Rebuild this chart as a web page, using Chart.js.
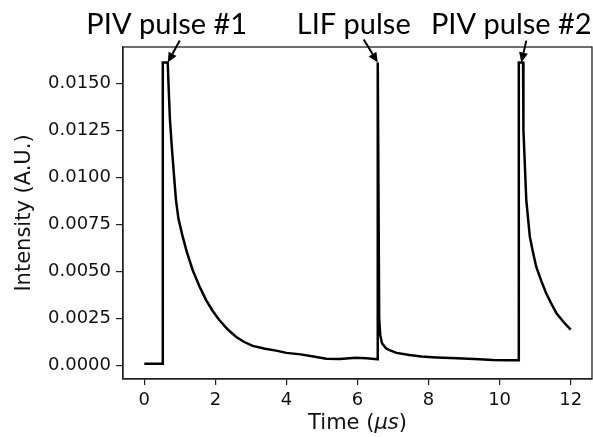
<!DOCTYPE html>
<html>
<head>
<meta charset="utf-8">
<script src="https://cdn.jsdelivr.net/npm/chart.js@4/dist/chart.umd.min.js"></script>
<style>
    body { margin: 0; background: #fff; }
    #wrap { width: 593px; height: 437px; }
</style>
</head>
<body>
<div id="wrap"><canvas id="pulse-chart" width="593" height="437"></canvas></div>
<script>
// signal (time in µs, intensity in A.U.)
const timeUs = [
    0, 0.52, 0.52, 0.66, 0.68, 0.72, 0.78, 0.84, 0.89, 0.96, 1.08, 1.2, 1.36, 1.55, 1.74, 1.92,
    2.11, 2.35, 2.58, 2.8, 3.05, 3.4, 3.71, 4.0, 4.4, 4.8, 5.12, 5.5, 5.96, 6.25, 6.56,
    6.57, 6.61, 6.64, 6.69, 6.8, 6.9, 7.1, 7.46, 7.8, 8.22, 8.8, 9.44, 9.8, 10.2, 10.53,
    10.54, 10.66, 10.67, 10.75, 10.85, 10.94, 11.03, 11.17, 11.31, 11.45, 11.6, 11.8, 12.0
];
const intensity = [
    0.00008, 0.00008, 0.0161, 0.0161, 0.0150, 0.0131, 0.01145, 0.0100, 0.0088, 0.0078, 0.00684, 0.0060, 0.00507, 0.0042, 0.00347, 0.0029,
    0.00241, 0.0019, 0.00152, 0.00125, 0.00103, 0.00088, 0.00078, 0.00066, 0.00058, 0.00045, 0.00035, 0.00034, 0.0004, 0.00037, 0.00032,
    0.0161, 0.0025, 0.0016, 0.00117, 0.0009, 0.00081, 0.00066, 0.00055, 0.00047, 0.00042, 0.00037, 0.00032, 0.00028, 0.00027, 0.00027,
    0.0161, 0.0161, 0.0125, 0.0088, 0.00684, 0.0060, 0.00524, 0.0045, 0.00383, 0.0033, 0.00277, 0.0023, 0.0019
];

const xTicks = [0, 2, 4, 6, 8, 10, 12];
const yTicks = [0, 0.0025, 0.005, 0.0075, 0.01, 0.0125, 0.015];

// annotations: label and the point the arrow points at
const annotLabels = ['PIV pulse #1', 'LIF pulse', 'PIV pulse #2'];
const annotTime = [0.66, 6.57, 10.61];
const annotValue = [0.0161, 0.0161, 0.0161];

const textColor = '#111';

// text offset and arrow tail offset from the arrow tip, in pixels
const annotLayout = [
    { textDx: -1, tailDx: 12, tailDy: -22 },
    { textDx: -24, tailDx: -14, tailDy: -23 },
    { textDx: -10, tailDx: 5, tailDy: -22 },
];

const annotPlugin = {
    id: 'annotArrows',
    afterDraw(chart) {
        const { ctx, chartArea, scales } = chart;
        ctx.save();
        // frame around the plot area
        ctx.strokeStyle = '#222';
        ctx.lineWidth = 1.3;
        ctx.strokeRect(chartArea.left, chartArea.top, chartArea.right - chartArea.left, chartArea.bottom - chartArea.top);

        // x axis title with italic mu-s like the mathtext original
        const parts = [['Time (', '21px "DejaVu Sans"'], ['μs', 'italic 21px "DejaVu Sans"'], [')', '21px "DejaVu Sans"']];
        let total = 0;
        parts.forEach(([s, f]) => { ctx.font = f; total += ctx.measureText(s).width; });
        let px = (chartArea.left + chartArea.right) / 2 - total / 2;
        ctx.fillStyle = textColor;
        ctx.textAlign = 'left';
        ctx.textBaseline = 'alphabetic';
        parts.forEach(([s, f]) => {
            ctx.font = f;
            ctx.fillText(s, px, 429);
            px += ctx.measureText(s).width;
        });

        ctx.fillStyle = '#000';
        ctx.strokeStyle = '#000';
        ctx.font = '29px Lato';
        ctx.textAlign = 'center';
        annotLabels.forEach((label, i) => {
            const tipX = scales.x.getPixelForValue(annotTime[i]);
            const tipY = scales.y.getPixelForValue(annotValue[i]);
            const lay = annotLayout[i];
            ctx.fillText(label, tipX + lay.textDx, 34);

            const tailX = tipX + lay.tailDx;
            const tailY = tipY + lay.tailDy;
            const ang = Math.atan2(tipY - tailY, tipX - tailX);
            const headLen = 10;
            const headW = 4.5;
            const baseX = tipX - headLen * Math.cos(ang);
            const baseY = tipY - headLen * Math.sin(ang);
            ctx.lineWidth = 2;
            ctx.beginPath();
            ctx.moveTo(tailX, tailY);
            ctx.lineTo(baseX, baseY);
            ctx.stroke();
            ctx.beginPath();
            ctx.moveTo(tipX, tipY);
            ctx.lineTo(baseX + headW * Math.sin(ang), baseY - headW * Math.cos(ang));
            ctx.lineTo(baseX - headW * Math.sin(ang), baseY + headW * Math.cos(ang));
            ctx.closePath();
            ctx.fill();
        });
        ctx.restore();
    }
};

new Chart(document.getElementById('pulse-chart'), {
    type: 'scatter',
    data: {
        datasets: [{
            data: timeUs.map((t, i) => ({ x: t, y: intensity[i] })),
            showLine: true,
            borderColor: '#000',
            borderWidth: 2.5,
            pointRadius: 0,
            tension: 0,
        }],
    },
    options: {
        responsive: false,
        animation: false,
        devicePixelRatio: 1,
        layout: { padding: { top: 47, right: 1, left: 0, bottom: 0 } },
        plugins: {
            legend: { display: false },
            tooltip: { enabled: false },
        },
        scales: {
            x: {
                type: 'linear',
                min: -0.6,
                max: 12.6,
                afterBuildTicks: (scale) => { scale.ticks = xTicks.map(v => ({ value: v })); },
                afterFit: (scale) => { scale.height = 58; },
                grid: { drawOnChartArea: false, drawTicks: true, tickLength: 6, color: '#222', lineWidth: 1.2 },
                border: { display: true, color: '#222', width: 1.3 },
                ticks: {
                    padding: 5,
                    color: textColor,
                    font: { family: 'DejaVu Sans', size: 18 },
                    maxRotation: 0,
                    callback: (v) => String(v),
                },
                title: { display: false },
            },
            y: {
                type: 'linear',
                min: -0.00073,
                max: 0.01693,
                afterBuildTicks: (scale) => { scale.ticks = yTicks.map(v => ({ value: v })); },
                afterFit: (scale) => { scale.width = 123; },
                grid: { drawOnChartArea: false, drawTicks: true, tickLength: 7, color: '#222', lineWidth: 1.2 },
                border: { display: true, color: '#222', width: 1.3 },
                ticks: {
                    padding: 5,
                    color: textColor,
                    font: { family: 'DejaVu Sans', size: 18 },
                    callback: (v) => v.toFixed(4),
                },
                title: {
                    display: true,
                    text: 'Intensity (A.U.)',
                    color: textColor,
                    font: { family: 'DejaVu Sans', size: 21 },
                    padding: { top: 12, bottom: 0 },
                },
            },
        },
    },
    plugins: [annotPlugin],
});
</script>
</body>
</html>
